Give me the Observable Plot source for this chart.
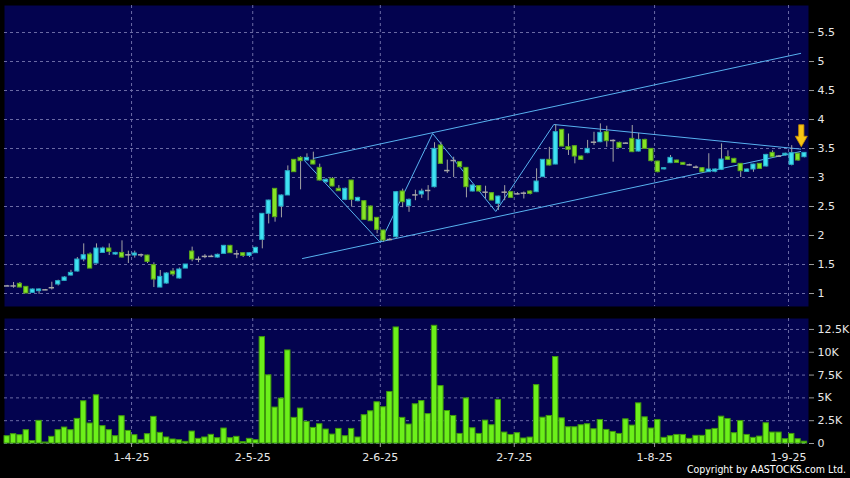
<!DOCTYPE html>
<html><head><meta charset="utf-8">
<script src="https://cdn.jsdelivr.net/npm/d3@7"></script>
<script src="https://cdn.jsdelivr.net/npm/@observablehq/plot@0.6"></script>
<style>
html,body{margin:0;padding:0;background:#000;}
#wrap{position:relative;width:850px;height:478px;background:#000;overflow:hidden;}
#wrap svg{display:block;}
#copy{position:absolute;right:4px;top:463px;color:#fff;font:10.5px "DejaVu Sans Condensed","DejaVu Sans",sans-serif;white-space:nowrap;}
</style></head><body><div id="wrap"></div>
<script>
// ---- data ----
const opens = [1.13,1.13,1.167,1.115,1.011,1.04,1.063,1.10,1.155,1.218,
1.31,1.379,1.586,1.672,1.517,1.70,1.776,1.672,1.70,1.667,
1.655,1.667,1.655,1.489,1.103,1.172,1.379,1.259,1.43,1.724,
1.59,1.64,1.64,1.62,1.684,1.822,1.684,1.695,1.649,1.695,
1.925,2.374,2.805,2.5,2.69,3.305,3.339,3.293,3.293,3.167,
2.92,2.977,2.805,2.615,2.948,2.592,2.592,2.5,2.305,2.086,
1.931,1.971,2.759,2.506,2.70,2.707,2.776,2.833,3.552,3.12,
3.293,3.264,3.167,2.759,2.851,2.747,2.73,2.546,2.747,2.747,
2.718,2.73,2.759,2.747,3.006,3.305,3.224,3.822,3.523,3.54,
3.362,3.42,3.609,3.609,3.782,3.638,3.598,3.592,3.667,3.448,
3.649,3.494,3.276,3.14,3.247,3.293,3.253,3.218,3.178,3.161,
3.092,3.10,3.132,3.35,3.322,3.236,3.098,3.138,3.236,3.19,
3.425,3.368,3.38,3.218,3.41,3.35];
const closes = [1.13,1.13,1.103,1.0,1.069,1.07,1.063,1.10,1.213,1.276,
1.356,1.586,1.66,1.43,1.776,1.776,1.718,1.70,1.62,1.667,
1.69,1.667,1.546,1.241,1.287,1.345,1.328,1.414,1.5,1.586,
1.59,1.64,1.64,1.667,1.822,1.695,1.684,1.649,1.695,1.787,
2.374,2.603,2.316,2.69,3.109,3.092,3.282,3.339,3.224,2.948,
2.96,2.845,2.764,2.805,2.615,2.649,2.270,2.247,2.098,1.914,
1.931,2.747,2.574,2.615,2.70,2.759,2.776,3.494,3.236,3.12,
3.293,3.178,2.833,2.862,2.759,2.747,2.603,2.672,2.747,2.65,
2.718,2.73,2.718,2.931,3.305,3.207,3.782,3.534,3.477,3.362,
3.305,3.494,3.609,3.77,3.626,3.638,3.511,3.592,3.437,3.649,
3.494,3.282,3.092,3.16,3.339,3.253,3.218,3.218,3.178,3.092,
3.138,3.138,3.31,3.305,3.253,3.109,3.138,3.224,3.149,3.39,
3.35,3.368,3.41,3.42,3.293,3.425];
const highs = [1.14,1.19,1.19,1.12,1.08,1.08,1.07,1.195,1.23,1.29,
1.40,1.62,1.856,1.70,1.856,1.80,1.856,1.71,1.908,1.73,
1.73,1.68,1.66,1.53,1.397,1.36,1.43,1.44,1.50,1.80,
1.63,1.67,1.66,1.68,1.83,1.83,1.74,1.70,1.70,1.80,
2.38,2.61,2.81,2.70,3.20,3.31,3.36,3.408,3.437,3.23,
2.98,3.0,2.86,2.82,2.95,2.66,2.60,2.51,2.31,2.09,
1.95,2.76,2.80,2.63,2.78,2.80,2.86,3.60,3.61,3.30,
3.35,3.27,3.17,2.88,2.86,2.85,2.74,2.68,2.86,2.75,
2.74,2.75,2.77,3.15,3.31,3.52,3.908,3.83,3.75,3.55,
3.37,3.64,3.78,3.925,3.885,3.65,3.61,3.60,3.897,3.76,
3.66,3.50,3.28,3.17,3.38,3.30,3.26,3.23,3.20,3.17,
3.41,3.15,3.58,3.46,3.33,3.24,3.15,3.23,3.24,3.40,
3.46,3.38,3.42,3.55,3.42,3.43];
const lows = [1.12,1.09,1.10,1.0,1.0,0.985,1.05,1.06,1.13,1.21,
1.30,1.37,1.546,1.43,1.51,1.69,1.655,1.66,1.61,1.517,
1.61,1.62,1.517,1.103,1.10,1.16,1.29,1.25,1.43,1.546,
1.53,1.60,1.62,1.61,1.68,1.69,1.60,1.62,1.62,1.69,
1.77,2.20,2.23,2.305,2.69,3.09,2.787,3.29,3.22,2.94,
2.90,2.84,2.76,2.60,2.49,2.58,2.26,2.24,2.03,1.885,
1.91,1.95,2.48,2.40,2.60,2.64,2.60,2.82,3.23,3.07,
3.0,3.17,2.65,2.75,2.75,2.63,2.60,2.43,2.60,2.64,
2.70,2.63,2.70,2.74,3.0,3.20,3.22,3.53,3.38,3.236,
3.30,3.41,3.55,3.60,3.52,3.264,3.50,3.58,3.43,3.44,
3.49,3.27,3.08,3.13,3.24,3.25,3.21,3.20,3.15,3.08,
3.09,3.08,3.12,3.30,3.25,3.0,3.09,3.09,3.14,3.18,
3.34,3.36,3.37,3.20,3.28,3.34];
const volumesK = [0.80,1.02,0.91,1.46,0.26,2.48,0.11,0.73,1.46,1.75,
1.46,2.70,4.63,2.19,5.28,1.90,1.46,0.80,2.99,1.38,
0.91,0.36,1.02,2.92,1.17,0.66,0.44,0.36,0.18,1.31,
0.51,0.66,0.95,0.58,1.64,0.58,0.73,0.15,0.51,0.36,
11.66,7.47,3.94,4.92,10.2,2.81,3.83,2.37,1.71,2.11,
1.53,0.98,1.60,0.80,1.60,0.66,3.10,3.53,4.52,3.97,
5.65,12.72,2.81,2.08,4.30,4.65,3.22,12.9,6.29,3.56,
3.02,1.05,4.94,1.67,1.05,2.51,2.0,4.76,1.2,0.94,
1.13,0.55,0.65,6.4,2.83,3.02,9.48,2.76,1.78,1.78,
2.0,2.11,1.56,2.58,1.49,1.27,1.05,2.65,1.96,4.4,
2.87,1.64,2.58,0.62,0.8,0.94,0.94,0.51,0.84,0.84,
1.49,1.6,2.94,2.69,1.13,2.47,0.94,0.62,0.76,2.22,
1.2,1.2,0.47,1.05,0.47,0.2];
const monthStarts = [20,39,59,80,102,123];
const monthLabels = ["1-4-25","2-5-25","2-6-25","2-7-25","1-8-25","1-9-25"];
const priceTicks = [1,1.5,2,2.5,3,3.5,4,4.5,5,5.5];
const volumeTicks = [0,2.5,5,7.5,10,12.5];
const zigzagIdx = [46.6,58.5,66.7,76.6,85.7,124.4];
const zigzagPrice = [3.293,1.879,3.759,2.414,3.914,3.49];
const upperIdx = [48.0,124.4], upperPrice = [3.33,5.14];
const lowerIdx = [46.3,124.4], lowerPrice = [1.603,3.448];
const arrowIdx = 124.5, arrowPrice = 3.72;

// ---- build ----
const N = opens.length;
const candles = d3.range(N).map(i => ({i, o: opens[i], h: highs[i], l: lows[i], c: closes[i], v: volumesK[i]}));
const ups = candles.filter(d => d.c > d.o);
const downs = candles.filter(d => d.c < d.o);
const dojis = candles.filter(d => d.c === d.o);
const zz = zigzagIdx.map((x, k) => ({x, y: zigzagPrice[k]}));
const up = upperIdx.map((x, k) => ({x, y: upperPrice[k]}));
const lo = lowerIdx.map((x, k) => ({x, y: lowerPrice[k]}));
const gridX = monthStarts.map(m => m - 0.5);
const labelAt = new Map(gridX.map((g, k) => [g, monthLabels[k]]));

const NAVY = "#03034f";
const GRID = {stroke: "#6c6ca6", strokeDasharray: "3,3", strokeWidth: 1};
const LINE = "#58b2f0";
const XD = [-0.42, 125.63];
const font = {background: "#000", color: "#e8e8e8", fontFamily: "DejaVu Sans, sans-serif", fontSize: "11px"};

const arrowSymbol = {draw(ctx) {
  ctx.moveTo(-2.6, -11); ctx.lineTo(2.6, -11); ctx.lineTo(2.6, 0.5); ctx.lineTo(6, 0.5);
  ctx.lineTo(0, 11); ctx.lineTo(-6, 0.5); ctx.lineTo(-2.6, 0.5); ctx.closePath();
}};

const price = Plot.plot({
  width: 850, height: 311, marginTop: 5, marginBottom: 5, marginLeft: 4, marginRight: 42,
  style: font,
  x: {domain: XD, axis: null},
  y: {domain: [0.776, 5.966], axis: null},
  marks: [
    Plot.frame({fill: NAVY, stroke: "none"}),
    Plot.ruleY(priceTicks, GRID),
    Plot.ruleX(gridX, GRID),
    Plot.axisY(priceTicks, {anchor: "right", label: null, tickSize: 5, tickPadding: 4, stroke: "#9a9a9a", fill: "#e8e8e8", tickFormat: d => String(d)}),
    Plot.line(up, {x: "x", y: "y", stroke: LINE, strokeWidth: 1, clip: true}),
    Plot.line(lo, {x: "x", y: "y", stroke: LINE, strokeWidth: 1, clip: true}),
    Plot.line(zz, {x: "x", y: "y", stroke: LINE, strokeWidth: 1, clip: true}),
    Plot.ruleX(candles, {x: "i", y1: "l", y2: "h", stroke: "#a4a4a4", strokeWidth: 1}),
    Plot.rect(ups, {x1: d => d.i - 0.33, x2: d => d.i + 0.33, y1: "o", y2: "c", fill: "#3fe2f2", stroke: "#27a9c4", strokeWidth: 1}),
    Plot.rect(downs, {x1: d => d.i - 0.33, x2: d => d.i + 0.33, y1: "o", y2: "c", fill: "#86e426", stroke: "#58a51a", strokeWidth: 1}),
    Plot.ruleY(dojis, {y: "o", x1: d => d.i - 0.42, x2: d => d.i + 0.42, stroke: "#a8a8a8", strokeWidth: 1.5}),
    Plot.dot([{x: arrowIdx, y: arrowPrice}], {x: "x", y: "y", symbol: arrowSymbol, r: 10, fill: "#f6c514", stroke: "#c98d00", strokeWidth: 0.8})
  ]
});

const volume = Plot.plot({
  width: 850, height: 167, marginTop: 7, marginBottom: 35, marginLeft: 4, marginRight: 42,
  style: font,
  x: {domain: XD, axis: null},
  y: {domain: [0, 13.7], axis: null},
  marks: [
    Plot.frame({fill: NAVY, stroke: "none"}),
    Plot.ruleY(volumeTicks, GRID),
    Plot.ruleX(gridX, GRID),
    Plot.rect(candles, {x1: d => d.i - 0.42, x2: d => d.i + 0.42, y1: 0, y2: "v", fill: "#6cf01a", stroke: "#3f9a0c", strokeWidth: 1}),
    Plot.axisY(volumeTicks, {anchor: "right", label: null, tickSize: 5, tickPadding: 4, stroke: "#9a9a9a", fill: "#e8e8e8", tickFormat: d => d === 0 ? "0" : d + "K"}),
    Plot.axisX(gridX, {anchor: "bottom", label: null, tickSize: 4, tickPadding: 6, stroke: "#9a9a9a", fill: "#e8e8e8", tickFormat: d => labelAt.get(d)})
  ]
});

const wrap = document.getElementById("wrap");
wrap.append(price, volume);
const copy = document.createElement("div");
copy.id = "copy";
copy.textContent = "Copyright by AASTOCKS.com Ltd.";
wrap.append(copy);
</script>
</body></html>
